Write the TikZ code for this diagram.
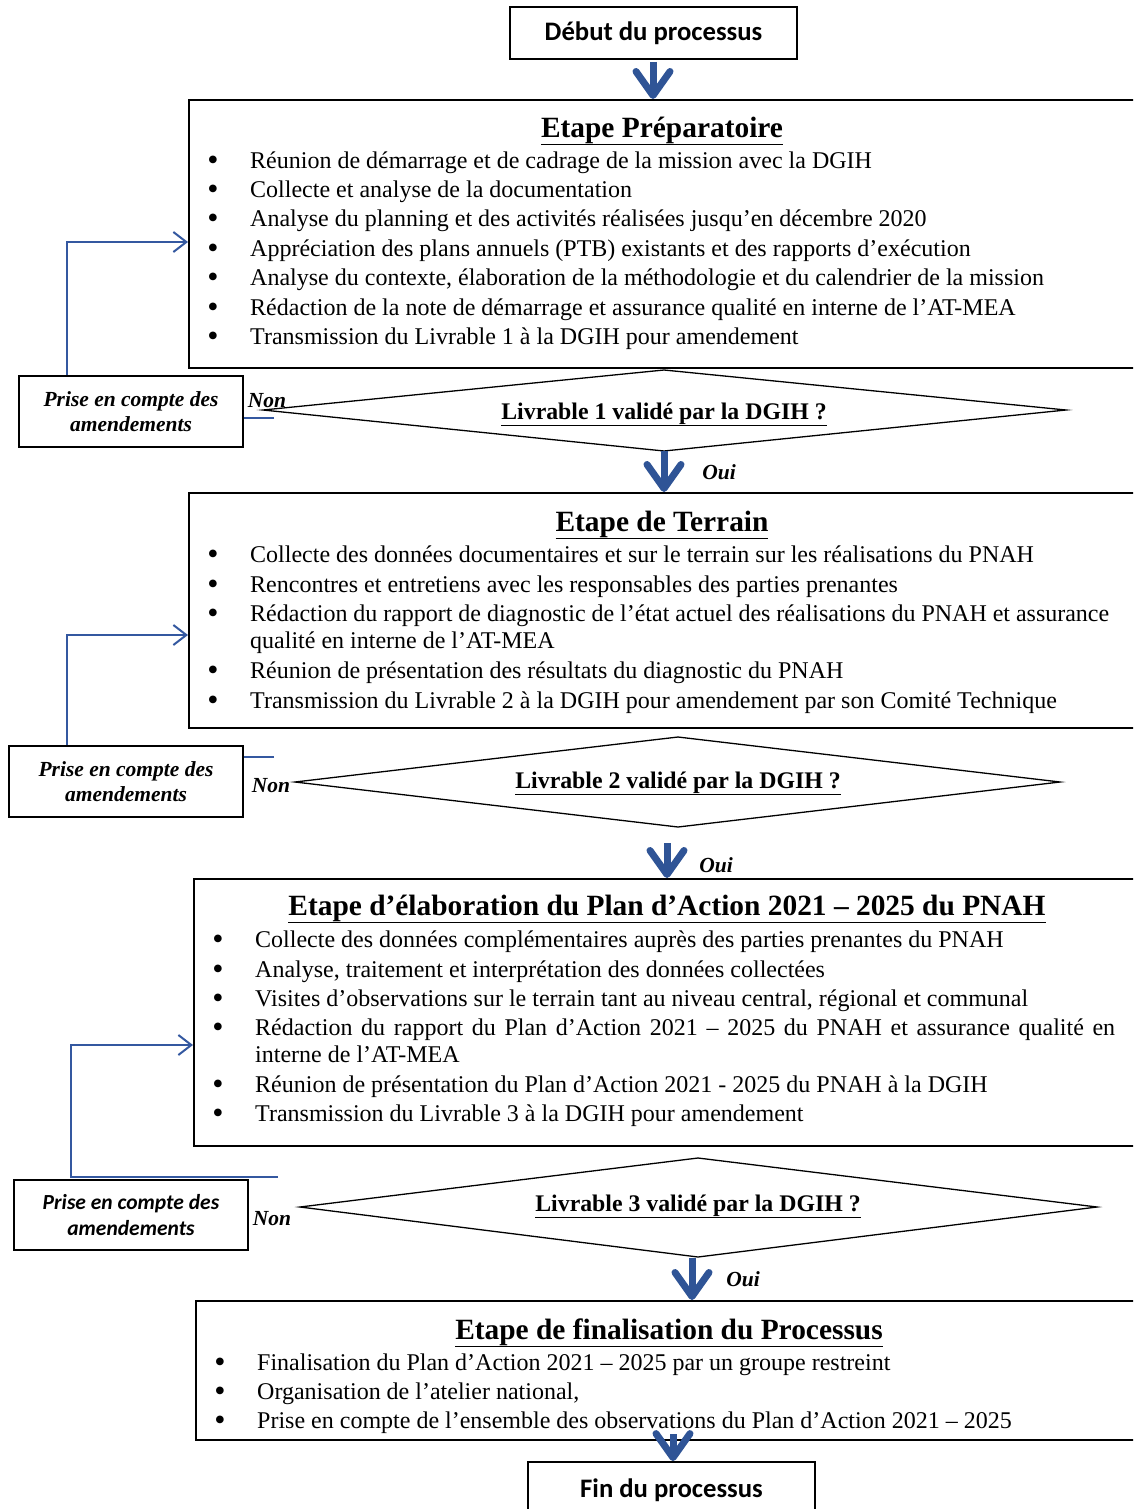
\documentclass[tikz,border=0pt]{standalone}
\usepackage{fontspec}
\setmainfont{Liberation Serif}
\newfontfamily\calib{Carlito}
\usetikzlibrary{arrows.meta}
\definecolor{arrowblue}{RGB}{47,84,150}
\definecolor{lineblue}{RGB}{52,88,160}
\newcommand\itm[4]{\node[bul] (#1b) at (#2-37,#3+10) {•};\node[itm] (#1) at (#2,#3+8) {#4};}
\begin{document}
\begin{tikzpicture}[x=1pt,y=-1pt,
  box/.style={draw=black,line width=1.8pt,inner sep=0pt,align=center},
  stagebox/.style={draw=black,line width=1.8pt,inner sep=0pt,anchor=north west,minimum width=980pt},
  ttl/.style={inner sep=0pt,anchor=base,font=\bfseries\fontsize{29.4}{32}\selectfont},
  itm/.style={inner sep=0pt,anchor=base west,font=\fontsize{24}{28}\selectfont},
  bul/.style={inner sep=0pt,anchor=base,font=\fontsize{32}{28}\selectfont},
  qtxt/.style={inner sep=0pt,anchor=base,font=\bfseries\fontsize{23.8}{26}\selectfont},
  lab/.style={inner sep=0pt,anchor=base,font=\bfseries\itshape\fontsize{21.5}{24}\selectfont},
  prise/.style={box,font=\bfseries\itshape\fontsize{21.5}{25}\selectfont},
  dia/.style={draw=black,line width=1.3pt,line join=miter},
  bigarrow/.style={draw=arrowblue,line width=7pt,-{Straight Barb[length=24pt,width=34pt,round]}},
  fb/.style={draw=lineblue,line width=2pt,-{Straight Barb[length=13pt,width=20pt]}},
  fbline/.style={draw=lineblue,line width=2pt},
]
\useasboundingbox (0,0) rectangle (1133,1509);
\clip (0,0) rectangle (1133,1509);

% ---------- start
\node[box,minimum width=287pt,minimum height=52pt,font=\calib\bfseries\fontsize{26.7}{30}\selectfont] (debut) at (653.5,33) {Début du processus};

% ---------- stage 1
\node[stagebox,minimum height=268pt] (s1) at (188,99) {};
\coordinate (a0s) at (653,62);
\draw[bigarrow] (a0s) -- (s1.north -| a0s);
\node[ttl] (s1t) at (662,137) {\underline{Etape Préparatoire}};
\itm{s1a}{250}{160}{Réunion de démarrage et de cadrage de la mission avec la DGIH}
\itm{s1b}{250}{189}{Collecte et analyse de la documentation}
\itm{s1c}{250}{218}{Analyse du planning et des activités réalisées jusqu’en décembre 2020}
\itm{s1d}{250}{248}{Appréciation des plans annuels (PTB) existants et des rapports d’exécution}
\itm{s1e}{250}{277}{Analyse du contexte, élaboration de la méthodologie et du calendrier de la mission}
\itm{s1f}{250}{307}{Rédaction de la note de démarrage et assurance qualité en interne de l’AT-MEA}
\itm{s1g}{250}{336}{Transmission du Livrable 1 à la DGIH pour amendement}

% ---------- decision 1
\coordinate (d1l) at (263,410);
\coordinate (d1t) at (664,370);
\coordinate (d1r) at (1066,410);
\coordinate (d1b) at (664,451);
\draw[dia] (d1l) -- (d1t) -- (d1r) -- (d1b) -- cycle;
\node[qtxt] (d1) at (664,419) {\underline{Livrable 1 validé par la DGIH ?}};
\node[prise,minimum width=224pt,minimum height=71pt] (p1) at (131,411.5) {Prise en compte des\\amendements};
\node[lab] (non1) at (267,407) {Non};
\node[lab] (oui1) at (719,479) {Oui};
\coordinate (n1) at (274,418);
\draw[fbline] (n1) -- (p1.east |- n1);
\draw[fb] ([xshift=49pt]p1.north west) |- (s1.west |- 0,242);

% ---------- stage 2
\node[stagebox,minimum height=235pt] (s2) at (188,492) {};
\draw[bigarrow] (d1b) -- (s2.north -| d1b);
\node[ttl] (s2t) at (662,531) {\underline{Etape de Terrain}};
\itm{s2a}{250}{554}{Collecte des données documentaires et sur le terrain sur les réalisations du PNAH}
\itm{s2b}{250}{584}{Rencontres et entretiens avec les responsables des parties prenantes}
\itm{s2c}{250}{613}{\makebox[859pt][s]{Rédaction du rapport de diagnostic de l’état actuel des réalisations du PNAH et assurance}}
\node[itm] (s2c2) at (250,648) {qualité en interne de l’AT-MEA};
\itm{s2d}{250}{670}{Réunion de présentation des résultats du diagnostic du PNAH}
\itm{s2e}{250}{700}{Transmission du Livrable 2 à la DGIH pour amendement par son Comité Technique}

% ---------- decision 2
\coordinate (d2l) at (295,782);
\coordinate (d2t) at (678,737);
\coordinate (d2r) at (1060,782);
\coordinate (d2b) at (678,827);
\draw[dia] (d2l) -- (d2t) -- (d2r) -- (d2b) -- cycle;
\node[qtxt] (d2) at (678,788) {\underline{Livrable 2 validé par la DGIH ?}};
\node[prise,minimum width=234pt,minimum height=71pt] (p2) at (126,781.5) {Prise en compte des\\amendements};
\node[lab] (non2) at (271,792) {Non};
\node[lab] (oui2) at (716,872) {Oui};
\coordinate (n2) at (274,757);
\draw[fbline] (n2) -- (p2.east |- n2);
\draw[fb] ([xshift=59pt]p2.north west) |- (s1.west |- 0,635);

% ---------- stage 3
\node[stagebox,minimum height=267pt] (s3) at (193,878) {};
\coordinate (a2s) at (667,843);
\draw[bigarrow] (a2s) -- (s3.north -| a2s);
\node[ttl] (s3t) at (667,915) {\underline{Etape d’élaboration du Plan d’Action 2021 – 2025 du PNAH}};
\itm{s3a}{255}{939}{Collecte des données complémentaires auprès des parties prenantes du PNAH}
\itm{s3b}{255}{969}{Analyse, traitement et interprétation des données collectées}
\itm{s3c}{255}{998}{Visites d’observations sur le terrain tant au niveau central, régional et communal}
\itm{s3d}{255}{1027}{\makebox[860pt][s]{Rédaction du rapport du Plan d’Action 2021 – 2025 du PNAH et assurance qualité en}}
\node[itm] (s3d2) at (255,1062) {interne de l’AT-MEA};
\itm{s3e}{255}{1084}{Réunion de présentation du Plan d’Action 2021 - 2025 du PNAH à la DGIH}
\itm{s3f}{255}{1113}{Transmission du Livrable 3 à la DGIH pour amendement}

% ---------- decision 3
\coordinate (d3l) at (300,1207);
\coordinate (d3t) at (698,1158);
\coordinate (d3r) at (1097,1207);
\coordinate (d3b) at (698,1257);
\draw[dia] (d3l) -- (d3t) -- (d3r) -- (d3b) -- cycle;
\node[qtxt] (d3) at (698,1211) {\underline{Livrable 3 validé par la DGIH ?}};
\node[box,minimum width=234pt,minimum height=70pt,font=\calib\bfseries\itshape\fontsize{21.5}{26}\selectfont] (p3) at (131,1215) {Prise en compte des\\amendements};
\node[lab] (non3) at (272,1225) {Non};
\node[lab] (oui3) at (743,1286) {Oui};
\coordinate (n3) at (278,1177);
\draw[fb] (n3) -- ([xshift=58pt]p3.north west |- n3) |- (s3.west |- 0,1045);

% ---------- stage 4
\node[stagebox,minimum height=139pt] (s4) at (195,1300) {};
\coordinate (a3s) at (692,1258);
\draw[bigarrow] (a3s) -- (s4.north -| a3s);
\node[ttl] (s4t) at (669,1339) {\underline{Etape de finalisation du Processus}};
\itm{s4a}{257}{1362}{Finalisation du Plan d’Action 2021 – 2025 par un groupe restreint}
\itm{s4b}{257}{1391}{Organisation de l’atelier national,}
\itm{s4c}{257}{1420}{Prise en compte de l’ensemble des observations du Plan d’Action 2021 – 2025}

% ---------- end
\node[box,minimum width=287pt,minimum height=56pt,font=\calib\bfseries\fontsize{26.7}{30}\selectfont] (fin) at (671.5,1490) {Fin du processus};
\coordinate (a4s) at (673,1434);
\draw[bigarrow] (a4s) -- (fin.north -| a4s);
\end{tikzpicture}
\end{document}
